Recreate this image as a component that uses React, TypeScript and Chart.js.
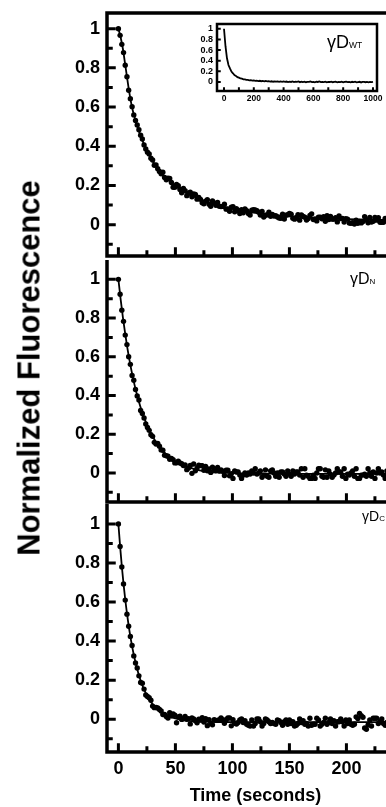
import React, { useEffect, useRef } from "react";
import { Chart, registerables } from "chart.js";

Chart.register(...registerables);

const FONT = '"Liberation Sans", Arial, Helvetica, sans-serif';

// sampling times of the three kinetic traces (seconds)
const sampleTimes = [
  0, 1.5, 3, 4.5, 6, 7.5, 9, 10.5, 12, 13.5,
  15, 16.5, 18, 19.5, 21, 22.5, 24, 25.5, 27, 28.5,
  30, 31.5, 33, 34.5, 36, 37.5, 39, 40.5, 42, 43.5,
  45, 46.5, 48, 49.5, 51, 52.5, 54, 55.5, 57, 58.5,
  60, 61.5, 63, 64.5, 66, 67.5, 69, 70.5, 72, 73.5,
  75, 76.5, 78, 79.5, 81, 82.5, 84, 85.5, 87, 88.5,
  90, 91.5, 93, 94.5, 96, 97.5, 99, 100.5, 102, 103.5,
  105, 106.5, 108, 109.5, 111, 112.5, 114, 115.5, 117, 118.5,
  120, 121.5, 123, 124.5, 126, 127.5, 129, 130.5, 132, 133.5,
  135, 136.5, 138, 139.5, 141, 142.5, 144, 145.5, 147, 148.5,
  150, 151.5, 153, 154.5, 156, 157.5, 159, 160.5, 162, 163.5,
  165, 166.5, 168, 169.5, 171, 172.5, 174, 175.5, 177, 178.5,
  180, 181.5, 183, 184.5, 186, 187.5, 189, 190.5, 192, 193.5,
  195, 196.5, 198, 199.5, 201, 202.5, 204, 205.5, 207, 208.5,
  210, 211.5, 213, 214.5, 216, 217.5, 219, 220.5, 222, 223.5,
  225, 226.5, 228, 229.5, 231, 232.5, 234, 235.5, 237, 238.5,
  240,
];

// γD-WT normalized fluorescence
const wtValues = [
  1.0, 0.966, 0.92, 0.878, 0.813, 0.755, 0.686, 0.643, 0.602, 0.56,
  0.532, 0.509, 0.484, 0.456, 0.437, 0.407, 0.386, 0.37, 0.361, 0.339,
  0.33, 0.303, 0.304, 0.285, 0.271, 0.26, 0.267, 0.241, 0.229, 0.237,
  0.236, 0.215, 0.191, 0.191, 0.205, 0.199, 0.179, 0.163, 0.185, 0.173,
  0.148, 0.16, 0.166, 0.142, 0.157, 0.154, 0.13, 0.139, 0.129, 0.112,
  0.106, 0.12, 0.127, 0.104, 0.094, 0.121, 0.111, 0.099, 0.113, 0.094,
  0.092, 0.093, 0.104, 0.079, 0.08, 0.068, 0.089, 0.091, 0.066, 0.081,
  0.072, 0.057, 0.076, 0.061, 0.08, 0.071, 0.057, 0.049, 0.074, 0.076,
  0.075, 0.071, 0.063, 0.049, 0.067, 0.039, 0.048, 0.05, 0.063, 0.043,
  0.052, 0.044, 0.046, 0.039, 0.034, 0.033, 0.053, 0.029, 0.048, 0.051,
  0.057, 0.053, 0.033, 0.028, 0.037, 0.051, 0.023, 0.05, 0.042, 0.038,
  0.024, 0.031, 0.047, 0.055, 0.026, 0.029, 0.019, 0.038, 0.038, 0.03,
  0.04, 0.017, 0.046, 0.026, 0.042, 0.028, 0.028, 0.035, 0.014, 0.044,
  0.031, 0.031, 0.013, 0.03, 0.028, 0.008, 0.007, 0.01, 0.003, 0.023,
  0.007, 0.016, 0.009, 0.016, 0.041, 0.024, 0.01, 0.037, 0.013, 0.017,
  0.037, 0.023, 0.036, 0.012, 0.012, 0.012, 0.032, 0.022, 0.026, 0.009,
  0.016,
];

// γD-N normalized fluorescence
const nValues = [
  1.0, 0.923, 0.841, 0.783, 0.712, 0.663, 0.6, 0.561, 0.504, 0.479,
  0.431, 0.398, 0.377, 0.323, 0.307, 0.284, 0.253, 0.235, 0.22, 0.197,
  0.189, 0.158, 0.149, 0.152, 0.138, 0.119, 0.117, 0.092, 0.089, 0.086,
  0.071, 0.075, 0.069, 0.052, 0.053, 0.061, 0.052, 0.048, 0.038, 0.041,
  0.017, 0.025, 0.039, -0.002, 0.046, 0.011, 0.025, 0.04, 0.038, 0.037,
  0.014, 0.034, 0.011, 0.021, 0.003, 0.03, 0.012, 0.011, 0.028, 0.01,
  0.016, 0.009, -0.013, 0.014, 0.014, -0.015, -0.004, -0.028, 0.011, 0.005,
  0.005, -0.011, -0.028, -0.011, 0.0, -0.011, 0.0, -0.006, 0.011, 0.0,
  0.022, -0.006, 0.0, 0.011, -0.022, -0.011, 0.016, -0.017, -0.022, 0.011,
  0.016, 0.0, -0.017, 0.0, -0.022, 0.005, 0.005, -0.006, -0.017, 0.011,
  -0.006, -0.017, 0.011, -0.006, 0.005, 0.005, -0.011, 0.022, -0.022, 0.022,
  -0.011, -0.017, -0.028, -0.028, -0.011, -0.028, 0.0, 0.022, 0.022, -0.017,
  -0.022, 0.016, -0.022, 0.011, -0.006, -0.022, -0.011, 0.0, 0.022, 0.005,
  0.005, -0.017, 0.022, -0.028, -0.006, -0.011, 0.0, 0.011, -0.017, 0.022,
  -0.028, -0.028, -0.011, -0.011, -0.006, -0.017, 0.022, 0.0, -0.017, 0.005,
  -0.028, 0.0, 0.022, 0.0, 0.005, -0.011, -0.028, 0.011, -0.011, 0.016,
  -0.022,
];

// γD-C normalized fluorescence
const cValues = [
  1.0, 0.884, 0.779, 0.692, 0.61, 0.538, 0.476, 0.424, 0.377, 0.324,
  0.288, 0.262, 0.222, 0.188, 0.184, 0.154, 0.124, 0.116, 0.11, 0.097,
  0.067, 0.059, 0.06, 0.057, 0.05, 0.042, 0.024, 0.024, 0.014, 0.006,
  0.033, 0.017, 0.027, 0.02, -0.018, 0.011, 0.015, -0.001, 0.003, 0.014,
  0.0, 0.003, -0.024, 0.007, 0.001, -0.008, -0.018, 0.0, -0.005, 0.008,
  -0.015, 0.003, -0.033, -0.002, -0.02, -0.029, -0.002, -0.006, -0.006, -0.002,
  0.007, -0.003, -0.021, -0.003, 0.006, 0.006, -0.034, -0.003, -0.021, -0.025,
  -0.017, -0.004, 0.001, -0.017, -0.008, -0.026, -0.031, -0.035, -0.004, -0.035,
  -0.022, 0.001, 0.001, -0.013, -0.035, -0.022, 0.001, -0.004, -0.013, -0.022,
  -0.017, -0.022, -0.026, -0.004, -0.008, -0.017, -0.031, -0.013, -0.004, -0.026,
  -0.004, -0.022, -0.013, -0.035, -0.031, -0.022, 0.001, -0.017, -0.008, -0.026,
  -0.022, -0.035, 0.005, -0.031, -0.026, -0.026, 0.005, -0.004, -0.035, -0.026,
  -0.017, 0.005, -0.026, -0.017, 0.001, -0.022, -0.008, -0.035, -0.013, -0.013,
  0.001, -0.013, -0.035, -0.004, -0.022, -0.004, -0.026, -0.031, -0.026, 0.012,
  0.003, 0.03, 0.018, 0.01, -0.045, -0.052, -0.03, -0.004, -0.035, 0.005,
  0.005, 0.005, -0.022, -0.013, 0.001, -0.022, -0.031, -0.017, -0.031, -0.022,
  -0.026,
];

// fitted curves (seconds, normalized fluorescence)
const wtFitTimes = [0, 2, 4, 6, 8, 10, 12, 14, 16, 18, 20, 24, 28, 32, 36, 40, 45, 50, 55, 60, 70, 80, 90, 100, 110, 120, 140, 160, 180, 200, 220, 240];
const wtFitValues = [1.0, 0.955, 0.895, 0.815, 0.735, 0.66, 0.598, 0.552, 0.511, 0.477, 0.445, 0.39, 0.344, 0.307, 0.276, 0.249, 0.221, 0.197, 0.178, 0.16, 0.133, 0.111, 0.094, 0.08, 0.069, 0.06, 0.047, 0.038, 0.032, 0.028, 0.025, 0.024];

const nFitTimes = [0, 2, 4, 6, 8, 10, 12, 14, 16, 18, 20, 24, 28, 32, 36, 40, 45, 50, 55, 60, 70, 80, 90, 100, 120, 140, 160, 180, 200, 220, 240];
const nFitValues = [1.0, 0.895, 0.801, 0.717, 0.641, 0.574, 0.513, 0.459, 0.411, 0.368, 0.329, 0.264, 0.211, 0.169, 0.135, 0.108, 0.077, 0.057, 0.042, 0.031, 0.015, 0.007, 0.002, -0.001, -0.003, -0.004, -0.005, -0.005, -0.005, -0.005, -0.005];

const cFitTimes = [0, 1.5, 3, 4.5, 6, 7.5, 9, 10.5, 12, 13.5, 15, 18, 21, 24, 27, 30, 34, 38, 42, 46, 50, 55, 60, 70, 80, 100, 120, 160, 200, 240];
const cFitValues = [1.0, 0.885, 0.783, 0.693, 0.613, 0.542, 0.479, 0.423, 0.374, 0.33, 0.291, 0.225, 0.174, 0.134, 0.102, 0.077, 0.052, 0.034, 0.021, 0.011, 0.004, -0.003, -0.007, -0.011, -0.013, -0.015, -0.015, -0.015, -0.015, -0.015];

// inset: long γD-WT trace
const insetTimes = [
  0, 10, 20, 30, 40, 50, 60, 70, 80, 90,
  100, 110, 120, 130, 140, 150, 160, 170, 180, 190,
  200, 210, 220, 230, 240, 250, 260, 270, 280, 290,
  300, 310, 320, 330, 340, 350, 360, 370, 380, 390,
  400, 410, 420, 430, 440, 450, 460, 470, 480, 490,
  500, 510, 520, 530, 540, 550, 560, 570, 580, 590,
  600, 610, 620, 630, 640, 650, 660, 670, 680, 690,
  700, 710, 720, 730, 740, 750, 760, 770, 780, 790,
  800, 810, 820, 830, 840, 850, 860, 870, 880, 890,
  900, 910, 920, 930, 940, 950, 960, 970, 980, 990,
  1000,
];
const insetValues = [
  1.0, 0.672, 0.446, 0.318, 0.254, 0.196, 0.163, 0.128, 0.114, 0.09,
  0.081, 0.066, 0.062, 0.05, 0.049, 0.039, 0.04, 0.031, 0.034, 0.026,
  0.03, 0.021, 0.025, 0.017, 0.022, 0.014, 0.019, 0.011, 0.018, 0.01,
  0.015, 0.007, 0.013, 0.004, 0.011, 0.006, 0.012, 0.002, 0.009, 0.003,
  0.01, 0.001, 0.008, -0.002, 0.006, 0.0, 0.009, -0.003, 0.005, 0.002,
  0.01, -0.004, 0.004, -0.001, 0.007, -0.005, 0.003, 0.001, 0.008, -0.003,
  0.002, -0.006, 0.004, 0.0, 0.009, -0.004, 0.001, -0.002, 0.006, -0.007,
  0.003, -0.001, 0.007, -0.005, 0.0, 0.005, -0.006, 0.002, -0.003, 0.006,
  -0.008, 0.001, 0.004, -0.004, 0.002, -0.007, 0.003, -0.002, 0.005, -0.006,
  -0.001, 0.004, -0.009, 0.0, 0.003, -0.005, 0.001, -0.007, 0.002, -0.004,
  0.003,
];

// ticks
const xTickValues = [0, 50, 100, 150, 200, 250];
const xMinorTicks = [25, 75, 125, 175, 225];
const yTickValues = [0, 0.2, 0.4, 0.6, 0.8, 1];
const yMinorTicks = [-0.1, 0.1, 0.3, 0.5, 0.7, 0.9];
const insetXTicks = [0, 200, 400, 600, 800, 1000];
const insetXMinor = [100, 300, 500, 700, 900];
const insetYTicks = [0, 0.2, 0.4, 0.6, 0.8, 1];

const X_TITLE = "Time (seconds)";
const Y_TITLE = "Normalized Fluorescence";

const framePlugin = {
  id: "frame",
  afterDraw(chart: any, _args: any, o: any) {
    const { ctx, chartArea: a, scales } = chart;
    const xs = scales.x;
    const ys = scales.y;
    const lw = o.lineWidth;
    ctx.save();
    ctx.strokeStyle = "#000";
    ctx.lineCap = "butt";
    ctx.lineWidth = lw;
    ctx.beginPath();
    ctx.moveTo(a.left, a.top - (o.top ? lw / 2 : 0));
    ctx.lineTo(a.left, a.bottom + lw / 2);
    ctx.moveTo(a.left - lw / 2, a.bottom);
    ctx.lineTo(a.right + (o.right ? lw / 2 : 0), a.bottom);
    if (o.top) {
      ctx.moveTo(a.left - lw / 2, a.top);
      ctx.lineTo(a.right + (o.right ? lw / 2 : 0), a.top);
    }
    if (o.right) {
      ctx.moveTo(a.right, a.top);
      ctx.lineTo(a.right, a.bottom);
    }
    ctx.stroke();
    ctx.lineWidth = o.tickWidth;
    ctx.beginPath();
    const yTick = (v: number, len: number) => {
      const p = ys.getPixelForValue(v);
      ctx.moveTo(a.left, p);
      ctx.lineTo(a.left + lw / 2 + len, p);
    };
    const xTick = (v: number, len: number) => {
      const p = xs.getPixelForValue(v);
      if (p < a.left || p > a.right) return;
      ctx.moveTo(p, a.bottom);
      ctx.lineTo(p, a.bottom - lw / 2 - len);
    };
    o.yMajor.forEach((v: number) => yTick(v, o.majorLen));
    o.yMinor.forEach((v: number) => yTick(v, o.minorLen));
    o.xMajor.forEach((v: number) => xTick(v, o.majorLen));
    o.xMinor.forEach((v: number) => xTick(v, o.minorLen));
    ctx.stroke();
    ctx.restore();
  },
};

const zeroPad = (s: any) => {
  s.paddingLeft = 0;
  s.paddingRight = 0;
  s.paddingTop = 0;
  s.paddingBottom = 0;
};

type PanelCfg = {
  values: number[];
  fitTimes: number[];
  fitValues: number[];
  yMin: number;
  yMax: number;
  showX: boolean;
  top: boolean;
  padTop: number;
  padBottom: number;
};

function makePanel(canvas: HTMLCanvasElement, c: PanelCfg) {
  const tickFont = { family: FONT, size: 18, weight: "bold" as const };
  return new Chart(canvas, {
    type: "scatter",
    data: {
      datasets: [
        {
          data: sampleTimes.map((t, i) => ({ x: t, y: c.values[i] })),
          showLine: false,
          pointRadius: 2.7,
          pointStyle: "circle",
          backgroundColor: "#000",
          borderColor: "#000",
          pointBackgroundColor: "#000",
          pointBorderWidth: 0,
        },
        {
          data: c.fitTimes.map((t, i) => ({ x: t, y: c.fitValues[i] })),
          showLine: true,
          pointRadius: 0,
          borderColor: "#000",
          backgroundColor: "#000",
          borderWidth: 1.8,
          cubicInterpolationMode: "monotone",
          fill: false,
        } as any,
      ],
    },
    options: {
      animation: false,
      responsive: false,
      devicePixelRatio: 1,
      events: [],
      layout: { padding: { top: c.padTop, bottom: c.padBottom, left: 0, right: 36 } },
      plugins: {
        legend: { display: false },
        tooltip: { enabled: false },
        frame: {
          lineWidth: 3.5,
          tickWidth: 3,
          majorLen: 7,
          minorLen: 4,
          top: c.top,
          right: false,
          yMajor: yTickValues,
          yMinor: yMinorTicks,
          xMajor: xTickValues,
          xMinor: xMinorTicks,
        },
      } as any,
      scales: {
        x: {
          type: "linear",
          min: -10,
          max: 250.5,
          afterBuildTicks: (s: any) => {
            s.ticks = xTickValues.map((v) => ({ value: v }));
          },
          afterFit: (s: any) => {
            s.height = c.showX ? 55 : 0;
            zeroPad(s);
          },
          grid: { display: false, drawTicks: false },
          border: { display: false },
          ticks: {
            display: c.showX,
            font: tickFont,
            color: "#000",
            padding: 6,
            maxRotation: 0,
            autoSkip: false,
            callback: (v: any) => String(v),
          },
          title: {
            display: c.showX,
            text: X_TITLE,
            color: "#000",
            font: { family: FONT, size: 18, weight: "bold" },
            padding: 0,
          },
        },
        y: {
          type: "linear",
          min: c.yMin,
          max: c.yMax,
          afterBuildTicks: (s: any) => {
            s.ticks = yTickValues.map((v) => ({ value: v }));
          },
          afterFit: (s: any) => {
            s.width = 107;
            zeroPad(s);
          },
          grid: { display: false, drawTicks: false },
          border: { display: false },
          ticks: {
            font: tickFont,
            color: "#000",
            padding: 7,
            autoSkip: false,
            callback: (v: any) => String(Number(Number(v).toFixed(1))),
          },
        },
      },
    },
    plugins: [framePlugin],
  });
}

function makeInset(canvas: HTMLCanvasElement) {
  return new Chart(canvas, {
    type: "scatter",
    data: {
      datasets: [
        {
          data: insetTimes.map((t, i) => ({ x: t, y: insetValues[i] })),
          showLine: true,
          pointRadius: 0,
          borderColor: "#000",
          borderWidth: 1.8,
          fill: false,
        },
      ],
    },
    options: {
      animation: false,
      responsive: false,
      devicePixelRatio: 1,
      events: [],
      layout: { padding: { top: 6, bottom: 0, left: 0, right: 13 } },
      plugins: {
        legend: { display: false },
        tooltip: { enabled: false },
        frame: {
          lineWidth: 2.5,
          tickWidth: 2,
          majorLen: 2.5,
          minorLen: 2.5,
          top: true,
          right: true,
          yMajor: insetYTicks,
          yMinor: [],
          xMajor: insetXTicks,
          xMinor: insetXMinor,
        },
      } as any,
      scales: {
        x: {
          type: "linear",
          min: -47,
          max: 1027,
          afterBuildTicks: (s: any) => {
            s.ticks = insetXTicks.map((v) => ({ value: v }));
          },
          afterFit: (s: any) => {
            s.height = 14;
            zeroPad(s);
          },
          grid: { display: false, drawTicks: false },
          border: { display: false },
          ticks: {
            font: { family: FONT, size: 8.5, weight: "bold" },
            color: "#000",
            padding: 3,
            maxRotation: 0,
            autoSkip: false,
            callback: (v: any) => String(v),
          },
        },
        y: {
          type: "linear",
          min: -0.17,
          max: 1.09,
          afterBuildTicks: (s: any) => {
            s.ticks = insetYTicks.map((v) => ({ value: v }));
          },
          afterFit: (s: any) => {
            s.width = 47;
            zeroPad(s);
          },
          grid: { display: false, drawTicks: false },
          border: { display: false },
          ticks: {
            font: { family: FONT, size: 9, weight: "bold" },
            color: "#000",
            padding: 4,
            autoSkip: false,
            callback: (v: any) => String(Number(Number(v).toFixed(1))),
          },
        },
      },
    },
    plugins: [framePlugin],
  });
}

const labelStyle = (left: number, top: number, size: number): React.CSSProperties => ({
  position: "absolute",
  left,
  top,
  font: `${size}px ${FONT}`,
  lineHeight: 1,
  color: "#000",
  whiteSpace: "nowrap",
});

export default function App() {
  const p1 = useRef<HTMLCanvasElement>(null);
  const p2 = useRef<HTMLCanvasElement>(null);
  const p3 = useRef<HTMLCanvasElement>(null);
  const ins = useRef<HTMLCanvasElement>(null);

  useEffect(() => {
    const charts: Chart[] = [];
    charts.push(
      makePanel(p1.current!, {
        values: wtValues,
        fitTimes: wtFitTimes,
        fitValues: wtFitValues,
        yMin: -0.16,
        yMax: 1.08,
        showX: false,
        top: true,
        padTop: 13,
        padBottom: 2,
      })
    );
    charts.push(
      makePanel(p2.current!, {
        values: nValues,
        fitTimes: nFitTimes,
        fitValues: nFitValues,
        yMin: -0.15,
        yMax: 1.1,
        showX: false,
        top: false,
        padTop: 2,
        padBottom: 3,
      })
    );
    charts.push(
      makePanel(p3.current!, {
        values: cValues,
        fitTimes: cFitTimes,
        fitValues: cFitValues,
        yMin: -0.168,
        yMax: 1.102,
        showX: true,
        top: false,
        padTop: 3,
        padBottom: 0,
      })
    );
    charts.push(makeInset(ins.current!));
    return () => charts.forEach((c) => c.destroy());
  }, []);

  return (
    <div
      style={{
        position: "absolute",
        left: 0,
        top: 0,
        width: 386,
        height: 807,
        overflow: "hidden",
        background: "#fff",
      }}
    >
      <canvas ref={p1} width={440} height={260} style={{ position: "absolute", left: 0, top: 0, width: 440, height: 260 }} />
      <canvas ref={p2} width={440} height={250} style={{ position: "absolute", left: 0, top: 256, width: 440, height: 250 }} />
      <canvas ref={p3} width={440} height={307} style={{ position: "absolute", left: 0, top: 500, width: 440, height: 307 }} />
      <canvas ref={ins} width={220} height={87} style={{ position: "absolute", left: 170, top: 18, width: 220, height: 87 }} />
      <div
        style={{
          position: "absolute",
          left: 29,
          top: 368,
          transform: "translate(-50%, -50%) rotate(-90deg)",
          font: `bold 31px ${FONT}`,
          lineHeight: 1,
          whiteSpace: "nowrap",
          color: "#000",
        }}
      >
        {Y_TITLE}
      </div>
      <div style={labelStyle(327, 32.5, 18)}>
        γD<span style={{ fontSize: 8.5 }}>WT</span>
      </div>
      <div style={labelStyle(350, 270.5, 16)}>
        γD<span style={{ fontSize: 8 }}>N</span>
      </div>
      <div style={labelStyle(362, 508.5, 14)}>
        γD<span style={{ fontSize: 8 }}>C</span>
      </div>
    </div>
  );
}
